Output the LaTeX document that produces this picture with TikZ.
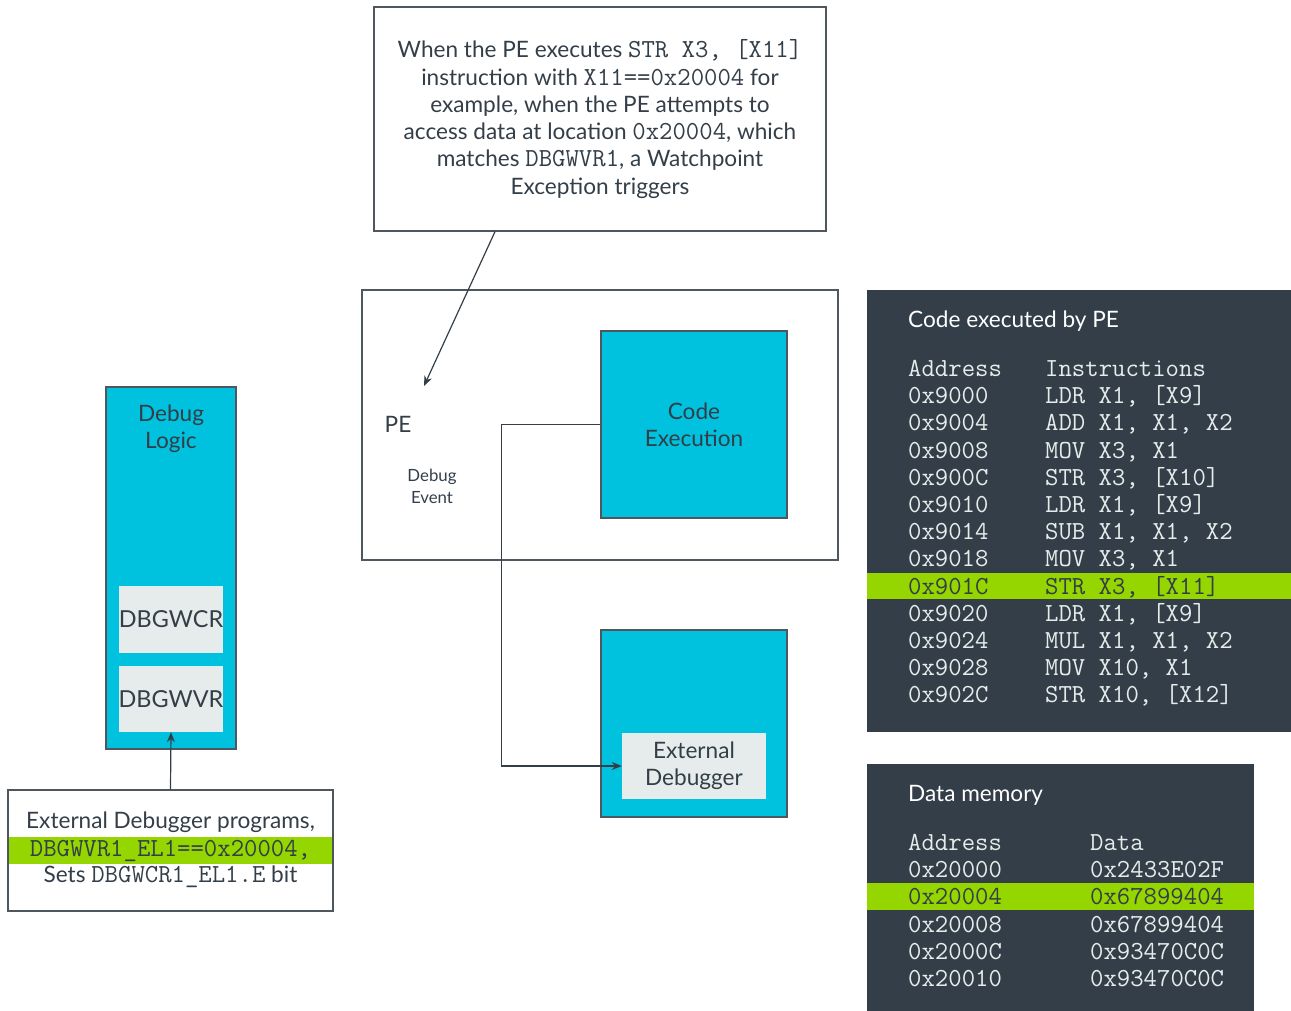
\documentclass[tikz,border=0pt]{standalone}
\usepackage{fontspec}
\setmainfont{Lato}
\usetikzlibrary{arrows.meta}
\definecolor{armcyan}{HTML}{00C1DE}
\definecolor{armslate}{HTML}{333E48}
\definecolor{armgreen}{HTML}{95D600}
\definecolor{armlight}{HTML}{E5ECEB}
\definecolor{armline}{HTML}{4E565E}
\newcommand{\code}[1]{{\ttfamily\fontsize{26}{27}\selectfont #1}}
\tikzset{
  dims/.style 2 args={minimum width=#1pt, minimum height=#2pt},
  frame/.style={draw=armline, line width=1.3pt, inner sep=0pt},
  block/.style={frame, fill=armcyan},
  inbox/.style={fill=armlight, inner sep=0pt, text=armslate},
  panel/.style={fill=armslate, inner sep=0pt},
  hilite/.style={fill=armgreen, inner sep=0pt},
  mono/.style={font=\ttfamily\fontsize{26}{27}\selectfont, inner sep=0pt, anchor=west, text height=15pt, text depth=0pt},
  arr/.style={-{Stealth[length=10pt,width=8pt]}, line width=1.2pt, draw=armslate},
}
\begin{document}
\begin{tikzpicture}[x=1pt, y=-1pt, font=\fontsize{22.6}{27.3}\selectfont, text=armslate]
\useasboundingbox (0,0) rectangle (1291,1011);

% note at the top
\node[frame, dims={452}{224}, align=center] (note) at (600,119)
  {When the PE executes \code{STR X3, [X11]}\\
   instruction with \code{X11==0x20004} for\\
   example, when the PE attempts to\\
   access data at location \code{0x20004}, which\\
   matches \code{DBGWVR1}, a Watchpoint\\
   Exception triggers};

% PE
\node[frame, dims={476}{270}] (pe) at (600,425) {};
\node (pelbl) at (398,424) {PE};
\node[font=\fontsize{16.8}{22}\selectfont, align=center] (evt) at (432,486) {Debug\\Event};
\coordinate (hit) at (424,386);
\node[block, dims={186}{187}, align=center] (code) at (694,424.5) {Code\\Execution};

% external debugger
\node[block, dims={186}{187}] (ext) at (694,723.5) {};
\node[inbox, dims={144}{66}, align=center] (extdbg) at (694,766) {External\\Debugger};

% debug logic
\node[block, dims={130}{362}] (dbg) at (171,568) {};
\node[align=center] (dbglbl) at (171,429) {Debug\\Logic};
\node[inbox, dims={104}{67}, font=\fontsize{23.4}{27}\selectfont] (wcr) at (171,619.5) {DBGWCR};
\node[inbox, dims={104}{66}, font=\fontsize{23.4}{27}\selectfont] (wvr) at (171,699) {DBGWVR};

% programming note
\node[hilite, dims={325}{27}] (band) at (170.5,850.5) {\code{DBGWVR1\_EL1==0x20004,}};
\node[frame, dims={325}{121}] (prog) at (170.5,850.5) {};
\node (progtop) at (170.5,822) {External Debugger programs,};
\node (progbot) at (170.5,877) {Sets \code{DBGWCR1\_EL1.E} bit};

% connectors
\draw[arr] ([xshift=-105pt]note.south) -- (hit);
\draw[arr] (code.west) -- ++(-99,0) |- (extdbg.west);
\draw[arr] (prog.north) -- (wvr.south);

% code panel
\node[panel, dims={424}{442}] (codepanel) at (1079,511) {};
\node[hilite, dims={424}{26}] (codehl) at (1079,586) {};
\node[anchor=west, inner sep=0pt, text=white] (codettl) at (908,321) {Code executed by PE};
\node[mono, text=armlight] (hdra) at (908,369) {Address};
\node[mono, text=armlight] (hdri) at (1045,369) {Instructions};
\foreach \addr/\ins/\col [count=\i] in {
    0x9000/{LDR X1, [X9]}/armlight, 0x9004/{ADD X1, X1, X2}/armlight,
    0x9008/{MOV X3, X1}/armlight, 0x900C/{STR X3, [X10]}/armlight,
    0x9010/{LDR X1, [X9]}/armlight, 0x9014/{SUB X1, X1, X2}/armlight,
    0x9018/{MOV X3, X1}/armlight, 0x901C/{STR X3, [X11]}/armslate,
    0x9020/{LDR X1, [X9]}/armlight, 0x9024/{MUL X1, X1, X2}/armlight,
    0x9028/{MOV X10, X1}/armlight, 0x902C/{STR X10, [X12]}/armlight}
{
  \node[mono, text=\col] (ca\i) at (908,{369+27.2*\i}) {\addr};
  \node[mono, text=\col] (ci\i) at (1045,{369+27.2*\i}) {\ins};
}

% data panel
\node[panel, dims={387}{247}] (datapanel) at (1060.5,887.5) {};
\node[hilite, dims={387}{27}] (datahl) at (1060.5,896.5) {};
\node[anchor=west, inner sep=0pt, text=white] (datattl) at (908,795) {Data memory};
\node[mono, text=armlight] (hdrb) at (908,843) {Address};
\node[mono, text=armlight] (hdrd) at (1090,843) {Data};
\foreach \addr/\val/\col [count=\i] in {
    0x20000/0x2433E02F/armlight, 0x20004/0x67899404/armslate,
    0x20008/0x67899404/armlight, 0x2000C/0x93470C0C/armlight,
    0x20010/0x93470C0C/armlight}
{
  \node[mono, text=\col] (da\i) at (908,{843+27.2*\i}) {\addr};
  \node[mono, text=\col] (dv\i) at (1090,{843+27.2*\i}) {\val};
}
\end{tikzpicture}
\end{document}
